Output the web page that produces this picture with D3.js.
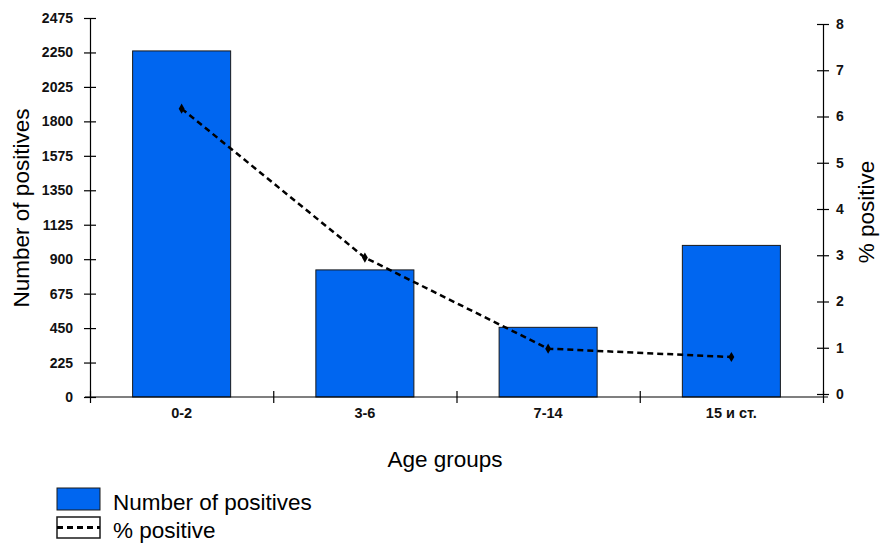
<!DOCTYPE html>
<html>
<head>
<meta charset="utf-8">
<script src="https://cdn.jsdelivr.net/npm/d3@7.9.0/dist/d3.min.js"></script>
<style>
  body { margin: 0; background: #fff; }
  svg { display: block; font-family: "Liberation Sans", Arial, sans-serif; }
  .tick text { font-weight: bold; font-size: 14px; fill: #111; }
  .domain, .tick line { stroke: #000; stroke-width: 1.2; }
</style>
</head>
<body>
<svg id="chart" width="882" height="546"></svg>
<script>
const ageGroups = ['0-2', '3-6', '7-14', '15 и ст.'];
const positives = [2260, 830, 455, 990];
const pctPositive = [6.17, 2.95, 0.98, 0.8];
const leftTicks = [0, 225, 450, 675, 900, 1125, 1350, 1575, 1800, 2025, 2250, 2475];
const rightTicks = [0, 1, 2, 3, 4, 5, 6, 7, 8];

const svg = d3.select('#chart');
const plot = { left: 90, right: 823, top: 18, bottom: 397 };

const x = d3.scaleBand()
  .domain(ageGroups)
  .range([plot.left, plot.right])
  .paddingInner(0.465)
  .paddingOuter(0.2325);

const yLeft = d3.scaleLinear().domain([0, 2475]).range([plot.bottom, plot.top]);
const yRight = d3.scaleLinear().domain([0, 8]).range([394, 24]);

// bars
svg.append('g')
  .selectAll('rect')
  .data(positives)
  .join('rect')
  .attr('x', (d, i) => x(ageGroups[i]))
  .attr('y', (d) => yLeft(d))
  .attr('width', x.bandwidth())
  .attr('height', (d) => yLeft(0) - yLeft(d))
  .attr('fill', '#0066f0')
  .attr('stroke', '#1a1a1a')
  .attr('stroke-width', 1);

// x axis, ticks sit between the groups
const xEdges = d3.scaleLinear().domain([0, 4]).range([plot.left, plot.right]);
const xAxisG = svg.append('g').attr('transform', `translate(0,${plot.bottom})`);
xAxisG.call(d3.axisBottom(xEdges).tickValues([0, 1, 2, 3, 4]).tickFormat('').tickSize(6).tickSizeOuter(0));
xAxisG.selectAll('.tick line').attr('y1', -6).attr('y2', 6);
xAxisG.select('.domain').attr('d', `M${plot.left - 5},0H${plot.right + 5}`);
xAxisG.selectAll('.cat')
  .data(ageGroups)
  .join('text')
  .attr('class', 'cat')
  .attr('x', (d) => x(d) + x.bandwidth() / 2)
  .attr('y', 21)
  .attr('text-anchor', 'middle')
  .attr('font-size', 14.5)
  .attr('font-weight', 'bold')
  .attr('fill', '#111')
  .text((d) => d);

// left axis
const leftG = svg.append('g').attr('transform', `translate(${plot.left},0)`);
leftG.call(d3.axisLeft(yLeft).tickValues(leftTicks).tickFormat(d3.format('d')).tickSize(6).tickSizeOuter(0));
leftG.selectAll('.tick line').attr('x1', 6).attr('x2', -6);
leftG.selectAll('.tick text').attr('x', -17);

// right axis
const rightG = svg.append('g').attr('transform', `translate(${plot.right},0)`);
rightG.call(d3.axisRight(yRight).tickValues(rightTicks).tickSize(6).tickSizeOuter(0));
rightG.selectAll('.tick line').attr('x1', -6).attr('x2', 6);
rightG.selectAll('.tick text').attr('x', 13);

// % positive line
const linePts = pctPositive.map((v, i) => [x(ageGroups[i]) + x.bandwidth() / 2, yRight(v)]);
svg.append('path')
  .attr('d', d3.line()(linePts))
  .attr('fill', 'none')
  .attr('stroke', '#000')
  .attr('stroke-width', 2.5)
  .attr('stroke-dasharray', '6,4');
svg.append('g')
  .selectAll('path')
  .data(linePts)
  .join('path')
  .attr('d', d3.symbol(d3.symbolDiamond, 30))
  .attr('transform', (d) => `translate(${d[0]},${d[1]})`)
  .attr('fill', '#000');

// axis titles
svg.append('text')
  .attr('x', 445)
  .attr('y', 467)
  .attr('text-anchor', 'middle')
  .attr('font-size', 22.5)
  .text('Age groups');
svg.append('text')
  .attr('transform', 'translate(29,208) rotate(-90)')
  .attr('text-anchor', 'middle')
  .attr('font-size', 22.5)
  .text('Number of positives');
svg.append('text')
  .attr('transform', 'translate(874,212) rotate(-90)')
  .attr('text-anchor', 'middle')
  .attr('font-size', 22.5)
  .text('% positive');

// legend
const legend = svg.append('g');
legend.append('rect')
  .attr('x', 57).attr('y', 488).attr('width', 43).attr('height', 22)
  .attr('fill', '#0066f0').attr('stroke', '#1a1a1a');
legend.append('text').attr('x', 113).attr('y', 510).attr('font-size', 22.5).text('Number of positives');
legend.append('rect')
  .attr('x', 57).attr('y', 517).attr('width', 43).attr('height', 21)
  .attr('fill', '#fff').attr('stroke', '#1a1a1a').attr('stroke-width', 1.5);
legend.append('line')
  .attr('x1', 57).attr('x2', 100).attr('y1', 527.5).attr('y2', 527.5)
  .attr('stroke', '#000').attr('stroke-width', 3).attr('stroke-dasharray', '6,4');
legend.append('text').attr('x', 113).attr('y', 538).attr('font-size', 22.5).text('% positive');
</script>
</body>
</html>
